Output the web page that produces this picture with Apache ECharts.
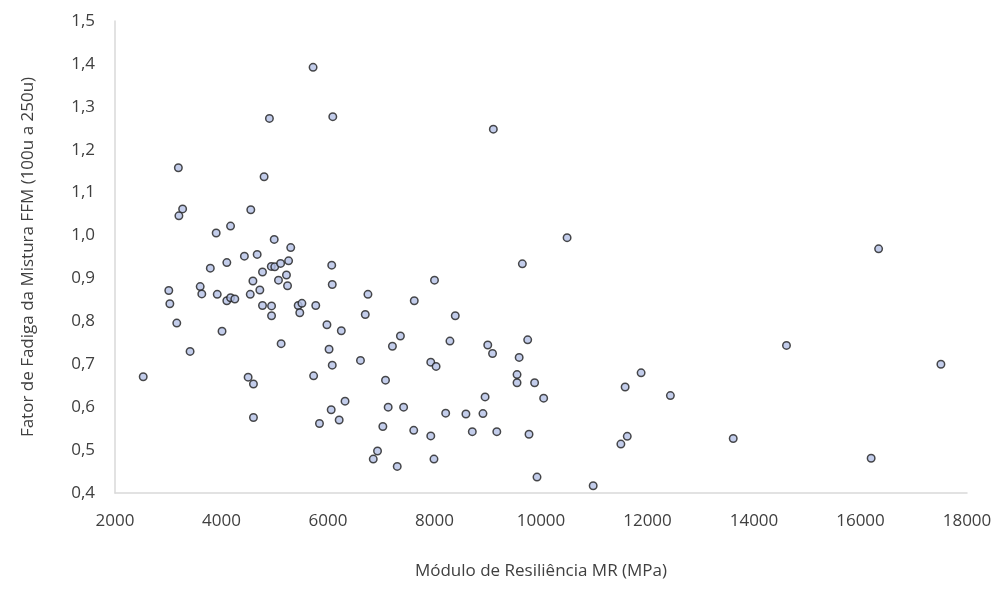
<!DOCTYPE html>
<html>
<head>
<meta charset="utf-8">
<script src="https://cdn.jsdelivr.net/npm/echarts@6/dist/echarts.min.js"></script>
<style>html,body{margin:0;padding:0;background:#fff}#c{width:997px;height:596px}</style>
</head>
<body>
<div id="c"></div>
<script>
const mrValues = [2530,3010,3030,3160,3190,3200,3270,3410,3600,3630,3790,3900,3920,4010,4100,4100,4170,4170,4250,4430,4500,4540,4550,4590,4600,4600,4670,4720,4770,4770,4800,4900,4935,4940,4940,4990,5000,5070,5110,5120,5220,5240,5260,5300,5440,5470,5510,5720,5730,5770,5840,5980,6020,6060,6070,6080,6080,6090,6210,6250,6320,6610,6700,6750,6850,6930,7030,7080,7130,7210,7300,7360,7420,7610,7620,7930,7930,7990,8000,8030,8210,8290,8390,8590,8710,8910,8950,9000,9090,9105,9170,9550,9550,9590,9650,9750,9775,9880,9925,10050,10490,10980,11500,11580,11620,11880,12430,13610,14610,16200,16340,17510];
const ffmValues = [0.671,0.872,0.841,0.796,1.158,1.046,1.062,0.730,0.881,0.864,0.924,1.006,0.863,0.777,0.937,0.848,1.022,0.855,0.852,0.952,0.670,0.863,1.060,0.894,0.654,0.576,0.956,0.873,0.915,0.837,1.137,1.273,0.928,0.836,0.813,0.991,0.927,0.896,0.935,0.748,0.908,0.883,0.941,0.972,0.837,0.820,0.842,1.392,0.673,0.837,0.562,0.792,0.735,0.594,0.931,0.886,0.698,1.277,0.570,0.778,0.614,0.709,0.816,0.863,0.479,0.498,0.555,0.663,0.600,0.742,0.462,0.766,0.600,0.546,0.848,0.533,0.705,0.479,0.896,0.695,0.586,0.754,0.813,0.584,0.543,0.585,0.624,0.745,0.725,1.248,0.543,0.676,0.657,0.716,0.934,0.757,0.537,0.657,0.437,0.621,0.995,0.417,0.514,0.647,0.532,0.680,0.627,0.527,0.744,0.481,0.969,0.700];
const xTitle = 'Módulo de Resiliência MR (MPa)';
const yTitle = 'Fator de Fadiga da Mistura FFM (100u a 250u)';

const points = mrValues.map((v, i) => [v, ffmValues[i]]);
const font = '"Open Sans", "Noto Sans", sans-serif';
const chart = echarts.init(document.getElementById('c'));
chart.setOption({
  animation: false,
  grid: { left: 115, right: 30, top: 21, bottom: 103 },
  xAxis: {
    type: 'value', min: 2000, max: 18000, interval: 2000,
    name: xTitle, nameLocation: 'middle', nameGap: 70,
    nameTextStyle: { fontFamily: font, fontSize: 17, color: '#404040' },
    axisLine: { show: true, lineStyle: { color: '#d9d9d9', width: 1.5 } },
    axisTick: { show: false },
    splitLine: { show: false },
    axisLabel: { fontFamily: font, fontSize: 17, color: '#404040', margin: 20,
      formatter: v => String(v) }
  },
  yAxis: {
    type: 'value', min: 0.4, max: 1.5, interval: 0.1,
    name: yTitle, nameLocation: 'middle', nameGap: 78,
    nameTextStyle: { fontFamily: font, fontSize: 17, color: '#404040' },
    axisLine: { show: true, lineStyle: { color: '#d9d9d9', width: 1.5 } },
    axisTick: { show: false },
    splitLine: { show: false },
    axisLabel: { fontFamily: font, fontSize: 17, color: '#404040', margin: 20,
      formatter: v => v.toFixed(1).replace('.', ',') }
  },
  series: [{
    type: 'scatter',
    data: points,
    symbol: 'circle',
    symbolSize: 7.5,
    itemStyle: { color: '#b4c0e6', borderColor: '#1e1e1e', borderWidth: 1.5 }
  }]
});
</script>
</body>
</html>
